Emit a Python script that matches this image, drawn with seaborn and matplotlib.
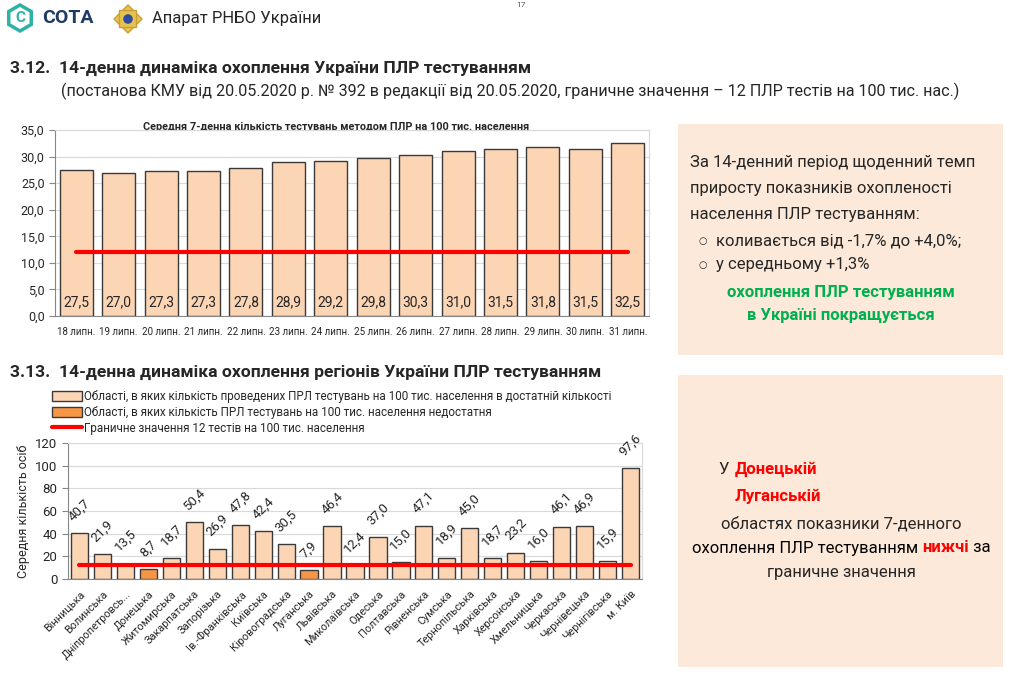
import matplotlib.pyplot as plt
import seaborn as sns
from matplotlib.patches import Rectangle, RegularPolygon, Patch, Circle
from matplotlib.lines import Line2D

# --- data ---------------------------------------------------------------
dates = ["18 липн.", "19 липн.", "20 липн.", "21 липн.", "22 липн.", "23 липн.", "24 липн.",
         "25 липн.", "26 липн.", "27 липн.", "28 липн.", "29 липн.", "30 липн.", "31 липн."]
avg7 = [27.5, 27.0, 27.3, 27.3, 27.8, 28.9, 29.2, 29.8, 30.3, 31.0, 31.5, 31.8, 31.5, 32.5]

regions = ["Вінницька", "Волинська", "Дніпропетровсь...", "Донецька", "Житомирська",
           "Закарпатська", "Запорізька", "Ів.-Франківська", "Київська", "Кіровоградська",
           "Луганська", "Львівська", "Миколаївська", "Одеська", "Полтавська", "Рівненська",
           "Сумська", "Тернопільська", "Харківська", "Херсонська", "Хмельницька",
           "Черкаська", "Чернівецька", "Чернігівська", "м. Київ"]
region_vals = [40.7, 21.9, 13.5, 8.7, 18.7, 50.4, 26.9, 47.8, 42.4, 30.5, 7.9, 46.4, 12.4,
               37.0, 15.0, 47.1, 18.9, 45.0, 18.7, 23.2, 16.0, 46.1, 46.9, 15.9, 97.6]
low_regions = ["Донецька", "Луганська"]
threshold = 12

legend_labels = [
    "Області, в яких кількість проведених ПРЛ тестувань на 100 тис. населення в достатній кількості",
    "Області, в яких кількість ПРЛ тестувань на 100 тис. населення недостатня",
    "Граничне значення 12 тестів на 100 тис. населення",
]

PEACH = "#FCD5B5"
ORANGE = "#F79646"
EDGE = "#3a3a3a"
GRID = "#D9D9D9"
AXC = "#868686"
BOXC = "#FDE9D9"
GREEN = "#00B050"

sns.set_style("white")
plt.rcParams["font.family"] = ["Roboto", "DejaVu Sans"]

W, H = 1010, 675
fig = plt.figure(figsize=(W / 100, H / 100), dpi=100)
page = fig.add_axes([0, 0, 1, 1], zorder=0)
page.set_xlim(0, W)
page.set_ylim(H, 0)
page.axis("off")


def box(l, t, r, b):
    return [l / W, 1 - b / H, (r - l) / W, (b - t) / H]


def fmt(v):
    return f"{v:.1f}".replace(".", ",")


# --- header -------------------------------------------------------------
page.add_patch(RegularPolygon((20, 18), 6, radius=13, fc="none", ec="#2DB3A6", lw=2.5))
page.text(20, 18.5, "C", color="#2DB3A6", fontsize=11, fontweight="bold", ha="center", va="center")
page.text(42, 18, "СОТА", color="#1F3B63", fontsize=14, fontweight="bold", ha="left", va="center")
page.add_patch(RegularPolygon((128, 19), 4, radius=14, fc="#E8C254", ec="#C9A02E", lw=1))
page.add_patch(RegularPolygon((128, 19), 4, radius=12, orientation=0.785, fc="#E8C254", ec="#C9A02E", lw=1))
page.add_patch(Circle((128, 19), 5.5, fc="#2E4E9A", ec="#E8C254", lw=1))
page.text(152, 18, "Апарат РНБО України", fontsize=12, ha="left", va="center")
page.text(521, 5, "17", fontsize=6, ha="center", va="center", color="#555555")

page.text(10, 68, "3.12.  14-денна динаміка охоплення України ПЛР тестуванням",
          fontsize=12.6, fontweight="bold", ha="left", va="center")
page.text(61, 91, "(постанова КМУ від 20.05.2020 р. № 392 в редакції від 20.05.2020, граничне значення – "
          "12 ПЛР тестів на 100 тис. нас.)", fontsize=11.6, ha="left", va="center")
page.text(10, 372, "3.13.  14-денна динаміка охоплення регіонів України ПЛР тестуванням",
          fontsize=12.6, fontweight="bold", ha="left", va="center")

# --- top chart ----------------------------------------------------------
ax1 = fig.add_axes(box(55, 130, 649, 316))
sns.barplot(x=dates, y=avg7, color=PEACH, saturation=1, edgecolor=EDGE, linewidth=1.0,
            width=0.78, ax=ax1)
ax1.plot([0, len(dates) - 1], [threshold, threshold], color="red", lw=3, zorder=5)
for i, v in enumerate(avg7):
    ax1.text(i, 2.6, fmt(v), ha="center", va="center", fontsize=10, zorder=6)
ax1.set_ylim(0, 35)
ax1.set_yticks(range(0, 36, 5))
ax1.set_yticklabels([fmt(t) for t in range(0, 36, 5)])
ax1.yaxis.grid(True, color=GRID, lw=0.8)
ax1.set_axisbelow(True)
ax1.set_xticks([i - 0.5 for i in range(len(dates) + 1)], minor=True)
ax1.set_xlim(-0.5, len(dates) - 0.5)
ax1.tick_params(axis="x", which="major", length=0, labelsize=7.0, pad=8)
ax1.tick_params(axis="x", which="minor", length=4, color=AXC)
ax1.tick_params(axis="y", labelsize=9, length=4, color=AXC, left=True)
for s in ["left", "bottom"]:
    ax1.spines[s].set_color(AXC)
for s in ["top", "right"]:
    ax1.spines[s].set_color(GRID)
page.text(336, 127, "Середня 7-денна кількість тестувань методом ПЛР на 100 тис. населення",
          fontsize=7.8, fontweight="bold", ha="center", va="center")

# --- bottom chart -------------------------------------------------------
status = ["low" if r in low_regions else "ok" for r in regions]
ax2 = fig.add_axes(box(68, 443, 642, 579))
sns.barplot(x=regions, y=region_vals, hue=status, palette={"ok": PEACH, "low": ORANGE},
            dodge=False, saturation=1, edgecolor=EDGE, linewidth=1.0, width=0.75,
            legend=False, ax=ax2)
ax2.plot([0, len(regions) - 1], [threshold, threshold], color="red", lw=3, zorder=5)
for i, v in enumerate(region_vals):
    ax2.annotate(fmt(v), (i, v), xytext=(0, 7), textcoords="offset points", rotation=45,
                 ha="center", va="bottom", fontsize=9.5)
ax2.set_ylim(0, 120)
ax2.set_yticks(range(0, 121, 20))
ax2.yaxis.grid(True, color=GRID, lw=0.8)
ax2.set_axisbelow(True)
ax2.set_xticks(range(len(regions)))
ax2.set_xticklabels(regions, rotation=45, ha="right", rotation_mode="anchor")
ax2.set_xticks([i - 0.5 for i in range(len(regions) + 1)], minor=True)
ax2.set_xlim(-0.5, len(regions) - 0.5)
ax2.tick_params(axis="x", which="major", length=0, labelsize=7.8, pad=7)
ax2.tick_params(axis="x", which="minor", length=4, color=AXC)
ax2.tick_params(axis="y", labelsize=9.5, length=4, color=AXC, left=True)
ax2.set_ylabel("Середня кількість осіб", fontsize=9, labelpad=4)
for s in ["left", "bottom"]:
    ax2.spines[s].set_color(AXC)
for s in ["top", "right"]:
    ax2.spines[s].set_color(GRID)

handles = [Patch(fc=PEACH, ec=EDGE, lw=1), Patch(fc=ORANGE, ec=EDGE, lw=1),
           Line2D([], [], color="red", lw=3)]
fig.legend(handles=handles, labels=legend_labels, loc="upper left",
           bbox_to_anchor=(52 / W, 1 - 390 / H), frameon=False, fontsize=8.4,
           handlelength=2.6, handleheight=0.9, handletextpad=0.15, labelspacing=0.25,
           borderaxespad=0, borderpad=0)

# --- side boxes ---------------------------------------------------------
page.add_patch(Rectangle((678, 124), 325, 231, fc=BOXC, ec="none"))
page.add_patch(Rectangle((678, 375), 325, 292, fc=BOXC, ec="none"))

for y, s in [(162, "За 14-денний період щоденний темп"),
             (188, "приросту показників охопленості"),
             (215, "населення ПЛР тестуванням:")]:
    page.text(690, y, s, fontsize=12, ha="left", va="center")
for y, s in [(241, "коливається від -1,7% до +4,0%;"), (265, "у середньому +1,3%")]:
    page.text(703, y, "○", fontsize=7, ha="center", va="center")
    page.text(716, y, s, fontsize=12, ha="left", va="center")
page.text(841, 293, "охоплення ПЛР тестуванням", fontsize=12, fontweight="bold",
          color=GREEN, ha="center", va="center")
page.text(841, 315, "в Україні покращується", fontsize=12, fontweight="bold",
          color=GREEN, ha="center", va="center")

page.text(718, 469, "У", fontsize=12, ha="left", va="center")
page.text(735, 469, "Донецькій", fontsize=12, fontweight="bold", color="red", ha="left", va="center")
page.text(735, 496, "Луганській", fontsize=12, fontweight="bold", color="red", ha="left", va="center")
page.text(841, 524, "областях показники 7-денного", fontsize=12, ha="center", va="center")
page.text(841, 572, "граничне значення", fontsize=12, ha="center", va="center")

renderer = fig.canvas.get_renderer()
parts = [("охоплення ПЛР тестуванням ", "black", "normal"), ("нижчі", "red", "bold"),
         (" за", "black", "normal")]
texts = [page.text(0, 548, s, fontsize=12, color=c, fontweight=w, ha="left", va="center")
         for s, c, w in parts]
widths = [t.get_window_extent(renderer=renderer).width for t in texts]
x = 841 - sum(widths) / 2
for t, w in zip(texts, widths):
    t.set_x(x)
    x += w

fig.savefig("out.png", dpi=100)
